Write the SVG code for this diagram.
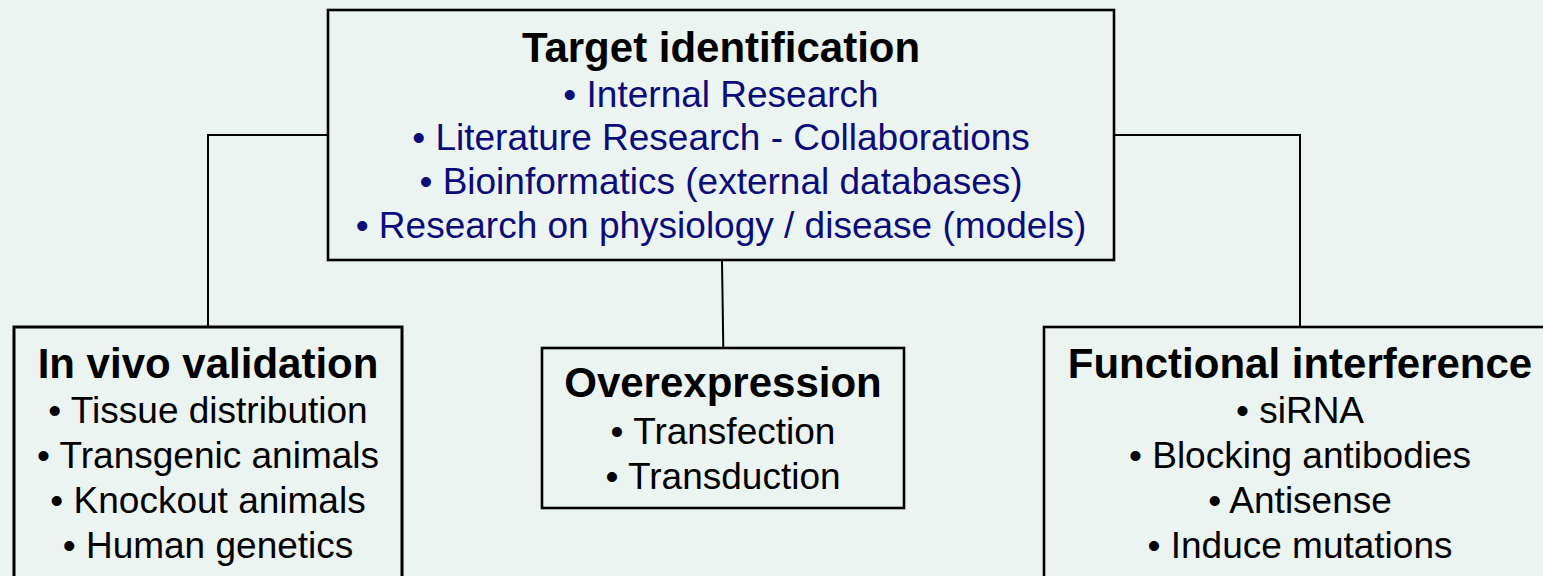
<svg xmlns="http://www.w3.org/2000/svg" width="1543" height="576" viewBox="0 0 1543 576">
  <style>
    .box { fill: #ebf4f1; stroke: #000; stroke-width: 2.6; }
    .link { fill: none; stroke: #000; stroke-width: 2; }
    .title { font-family: "Liberation Sans", Arial, sans-serif; font-size: 42px; font-weight: bold; fill: #000; text-anchor: middle; }
    .item { font-family: "Liberation Sans", Arial, sans-serif; font-size: 37px; fill: #000; text-anchor: middle; }
    .blue { fill: #0b0b7a; }
  </style>
  <rect width="1543" height="576" fill="#ebf4f1"/>

  <!-- connectors from the central box to the three method boxes -->
  <g id="connectors">
    <polyline class="link" points="328,135 208,135 208,327"/>
    <polyline class="link" points="1114,135 1300,135 1300,327"/>
    <line class="link" x1="722" y1="261" x2="723.3" y2="348"/>
  </g>

  <g id="target-identification">
    <rect class="box" x="328" y="10" width="786" height="250"/>
    <text class="title" x="721" y="62">Target identification</text>
    <text class="item blue" x="721" y="107">• Internal Research</text>
    <text class="item blue" x="721" y="150">• Literature Research - Collaborations</text>
    <text class="item blue" x="721" y="194">• Bioinformatics (external databases)</text>
    <text class="item blue" x="721" y="238">• Research on physiology / disease (models)</text>
  </g>

  <g id="in-vivo-validation">
    <rect class="box" x="14" y="327" width="388" height="300" style="stroke-width:3"/>
    <text class="title" x="208" y="378">In vivo validation</text>
    <text class="item" x="208" y="423">• Tissue distribution</text>
    <text class="item" x="208" y="468">• Transgenic animals</text>
    <text class="item" x="208" y="513">• Knockout animals</text>
    <text class="item" x="208" y="558">• Human genetics</text>
  </g>

  <g id="overexpression">
    <rect class="box" x="542" y="348" width="362" height="160"/>
    <text class="title" x="723" y="397">Overexpression</text>
    <text class="item" x="723" y="444">• Transfection</text>
    <text class="item" x="723" y="489">• Transduction</text>
  </g>

  <g id="functional-interference">
    <rect class="box" x="1044" y="327" width="520" height="300"/>
    <text class="title" x="1300" y="378">Functional interference</text>
    <text class="item" x="1300" y="423">• siRNA</text>
    <text class="item" x="1300" y="468">• Blocking antibodies</text>
    <text class="item" x="1300" y="513">• Antisense</text>
    <text class="item" x="1300" y="558">• Induce mutations</text>
  </g>
</svg>
